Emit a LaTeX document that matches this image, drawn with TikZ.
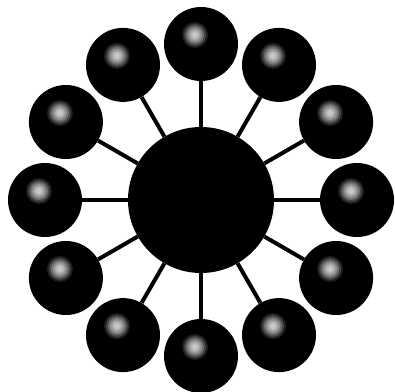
\documentclass[tikz,border=0pt]{standalone}
\usetikzlibrary{positioning}

\begin{document}
\begin{tikzpicture}[
  x=1pt, y=1pt,
  hub/.style={circle, fill=black, minimum size=146pt, inner sep=0pt},
  ball/.style={circle, fill=black, minimum size=74pt, inner sep=0pt,
               path picture={% soft glint, ring by ring
                 \foreach \r/\c in {13/88, 11/72, 9/56, 7/42, 5/30, 3/22}
                   \fill[black!\c] ([shift={(-6pt,9pt)}]path picture bounding box.center) circle (\r pt);}},
  spoke/.style={line width=4pt, black}
]
\useasboundingbox (0,0) rectangle (395,391);
\node[hub] (c) at (201,191) {};
\foreach \i in {0,...,11}
  \node[ball] (b\i) at ([shift={(90+30*\i:156)}]c.center) {};
\foreach \i in {0,...,11} \draw[spoke] (c) -- (b\i);
\end{tikzpicture}
\end{document}
